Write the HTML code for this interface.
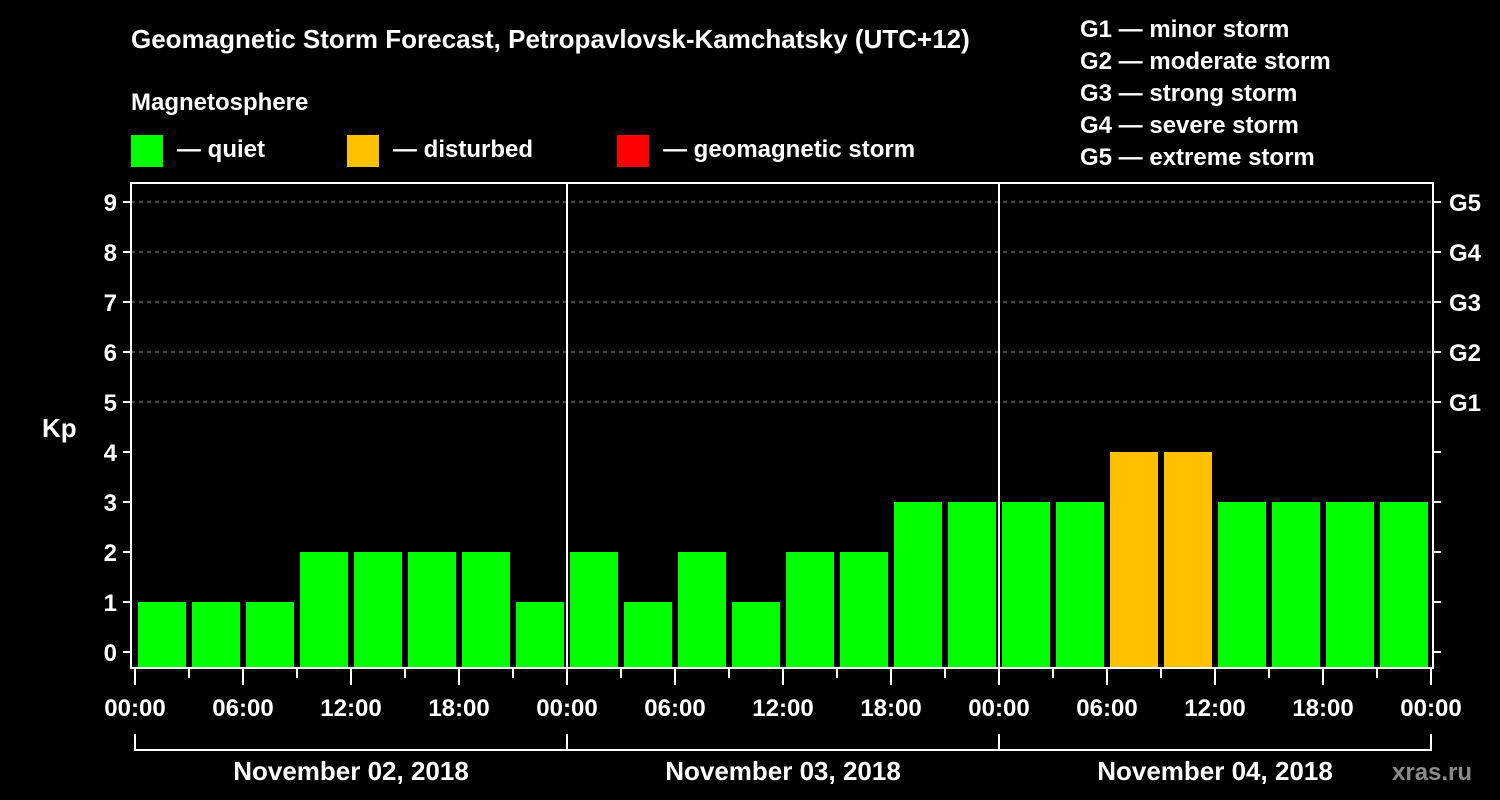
<!DOCTYPE html>
<html><head><meta charset="utf-8"><style>
body{margin:0;background:#000;width:1500px;height:800px;overflow:hidden}
svg{display:block}
text{font-family:"Liberation Sans",Arial,sans-serif;font-weight:bold;fill:#fff}
</style></head><body>
<svg id="chart" width="1500" height="800">
<rect width="1500" height="800" fill="#000"/>
<text x="131" y="48" font-size="26">Geomagnetic Storm Forecast, Petropavlovsk-Kamchatsky (UTC+12)</text>
<text x="131" y="110" font-size="24">Magnetosphere</text>
<g><rect x="131" y="135" width="32" height="32" fill="#00ff00"/><text x="177" y="157" font-size="24">— quiet</text></g>
<g><rect x="347" y="135" width="32" height="32" fill="#ffc000"/><text x="393" y="157" font-size="24">— disturbed</text></g>
<g><rect x="617" y="135" width="32" height="32" fill="#ff0000"/><text x="663" y="157" font-size="24">— geomagnetic storm</text></g>
<g font-size="24">
<text x="1080" y="37" font-size="24">G1 — minor storm</text>
<text x="1080" y="69" font-size="24">G2 — moderate storm</text>
<text x="1080" y="101" font-size="24">G3 — strong storm</text>
<text x="1080" y="133" font-size="24">G4 — severe storm</text>
<text x="1080" y="165" font-size="24">G5 — extreme storm</text>
</g>
<text x="42" y="437" font-size="26">Kp</text>
<text x="1392" y="780" font-size="24" fill="#888" style="fill:#8a8a8a">xras.ru</text>
<g id="plot"></g>
</svg>
<script>
const kpValues=[1,1,1,2,2,2,2,1, 2,1,2,1,2,2,3,3, 3,3,4,4,3,3,3,3];
const dayLabels=["November 02, 2018","November 03, 2018","November 04, 2018"];
const timeLabels=["00:00","06:00","12:00","18:00"];
const yTicks=[0,1,2,3,4,5,6,7,8,9];
const gLabels=["G1","G2","G3","G4","G5"];
const NS="http://www.w3.org/2000/svg";
const g=document.getElementById('plot');
const X0=135,DAY=432,Y0=652,UNIT=50,LEFT=131,RIGHT=1433,TOP=183,BOTTOM=668;
const xs=h=>X0+h*DAY/24;
const ys=v=>Y0-v*UNIT;
function el(t,a){const e=document.createElementNS(NS,t);for(const k in a)e.setAttribute(k,a[k]);g.appendChild(e);return e;}
// grid
for(let v=5;v<=9;v++){const l=el('line',{x1:LEFT,x2:RIGHT,y1:ys(v),y2:ys(v),stroke:'#888','stroke-dasharray':'4,4','stroke-width':1});

}
// bars
kpValues.forEach((v,i)=>{const c=v>=5?'#ff0000':(v>=4?'#ffc000':'#00ff00');
const r=el('rect',{x:xs(i*3)+3,y:ys(v),width:48,height:BOTTOM-ys(v),fill:c});

});
// frame
const f=el('rect',{x:LEFT,y:TOP,width:RIGHT-LEFT,height:BOTTOM-TOP,fill:'none',stroke:'#fff','stroke-width':2});


// day separators
for(let d=1;d<dayLabels.length;d++){const l=el('line',{x1:xs(d*24),x2:xs(d*24),y1:TOP,y2:BOTTOM,stroke:'#fff','stroke-width':2});

}
// y ticks
yTicks.forEach(v=>{el('line',{x1:LEFT-8,x2:LEFT,y1:ys(v),y2:ys(v),stroke:'#fff','stroke-width':2});
el('line',{x1:RIGHT,x2:RIGHT+8,y1:ys(v),y2:ys(v),stroke:'#fff','stroke-width':2});
const t=el('text',{x:LEFT-14,y:ys(v)+9,'font-size':24,'text-anchor':'end'});t.textContent=v;

});
gLabels.forEach((s,i)=>{const t=el('text',{x:1449,y:ys(5+i)+9,'font-size':24});t.textContent=s;

});
// x ticks
for(let h=0;h<=24*dayLabels.length;h+=3){const maj=h%6===0;
el('line',{x1:xs(h),x2:xs(h),y1:BOTTOM,y2:BOTTOM+(maj?17:10),stroke:'#fff','stroke-width':2});
if(maj){const t=el('text',{x:xs(h),y:716,'font-size':24,'text-anchor':'middle'});t.textContent=timeLabels[(h%24)/6];

}}
// day brackets
dayLabels.forEach((s,d)=>{const a=xs(d*24),b=xs(d*24+24);
el('path',{d:`M${a} 734V750H${b}V734`,stroke:'#fff','stroke-width':2,fill:'none'});
const t=el('text',{x:(a+b)/2,y:780,'font-size':26,'text-anchor':'middle'});t.textContent=s;

});
</script>
</body></html>
